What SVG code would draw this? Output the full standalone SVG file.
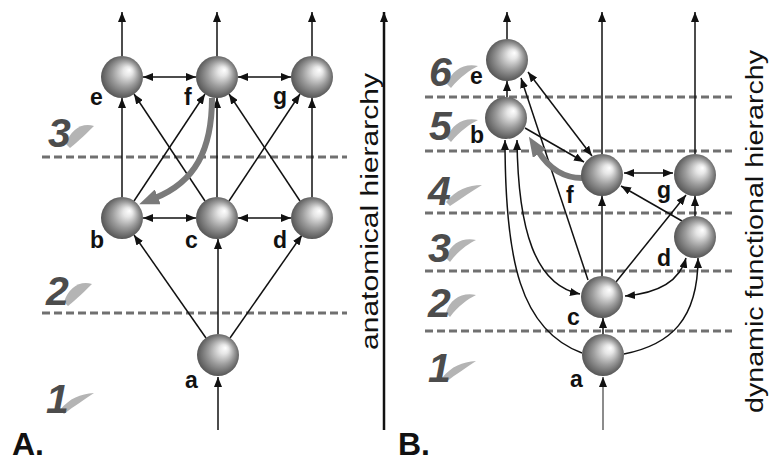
<svg xmlns="http://www.w3.org/2000/svg" width="771" height="461" viewBox="0 0 771 461">
<style>
.bg{fill:#fff}
.dash{stroke:#707070;stroke-width:3;stroke-dasharray:8 4;fill:none}
.node{fill:url(#sph)}
.lbl{font-family:"Liberation Sans",Arial,sans-serif;font-weight:bold;font-size:23px;fill:#111}
.num{font-family:"Liberation Sans",Arial,sans-serif;font-weight:bold;font-style:italic;font-size:41px;fill:#4c4c4c}
.sh{fill:#b4b4b4}
.c{stroke:#111;stroke-width:1.5;fill:none;marker-end:url(#ah)}
.cc{stroke:#111;stroke-width:1.5;fill:none;marker-end:url(#ah);marker-start:url(#ah)}
.thick{stroke:#7a7a7a;stroke-width:6;fill:none;marker-end:url(#ahg)}
.axis{font-family:"Liberation Sans",Arial,sans-serif;font-size:23px;fill:#111}
.panel{font-family:"Liberation Sans",Arial,sans-serif;font-weight:bold;font-size:32px;fill:#111}
</style>
<defs>
<radialGradient id="sph" cx="0.5" cy="0.5" r="0.56" fx="0.68" fy="0.33">
<stop offset="0" stop-color="#ffffff"/>
<stop offset="0.2" stop-color="#e6e6e6"/>
<stop offset="0.55" stop-color="#9c9c9c"/>
<stop offset="1" stop-color="#474747"/>
</radialGradient>
<marker id="ah" markerUnits="userSpaceOnUse" markerWidth="10" markerHeight="8" refX="10" refY="4" orient="auto-start-reverse"><path d="M0,0 L10,4 L0,8 z" fill="#111"/></marker>
<marker id="ahg" markerUnits="userSpaceOnUse" markerWidth="20" markerHeight="16" refX="3" refY="8" orient="auto"><path d="M0,0 L20,8 L0,16 z" fill="#7a7a7a"/></marker>
</defs>
<rect class="bg" x="0" y="0" width="771" height="461"/>

<g id="layers">
<line class="dash" x1="42" y1="157" x2="347" y2="157"/>
<line class="dash" x1="42" y1="313" x2="347" y2="313"/>
<line class="dash" x1="425" y1="97" x2="732" y2="97"/>
<line class="dash" x1="425" y1="151" x2="732" y2="151"/>
<line class="dash" x1="425" y1="213" x2="732" y2="213"/>
<line class="dash" x1="425" y1="271" x2="732" y2="271"/>
<line class="dash" x1="425" y1="331" x2="732" y2="331"/>
<path class="sh" d="M66,144 C70,130 82,122 94,126 C88,132 80,140 70,148 Z"/>
<text class="num" x="48" y="147">3</text>
<path class="sh" d="M64,302 C68,288 80,280 92,284 C86,290 78,298 68,306 Z"/>
<text class="num" x="46" y="305">2</text>
<path class="sh" d="M60,410 C70,398 80,394 94,393 C84,400 74,406 64,414 Z"/>
<text class="num" x="46" y="413">1</text>
<path class="sh" d="M447,84 C452,70 464,63 478,66 C470,70 460,77 451,88 Z"/>
<text class="num" x="429" y="86">6</text>
<path class="sh" d="M447,138 C452,124 464,117 478,120 C470,124 460,131 451,142 Z"/>
<text class="num" x="429" y="140">5</text>
<path class="sh" d="M446,202 C456,190 468,185 482,185 C472,191 462,198 450,206 Z"/>
<text class="num" x="428" y="205">4</text>
<path class="sh" d="M446,258 C450,244 462,237 476,240 C468,244 458,251 450,262 Z"/>
<text class="num" x="428" y="262">3</text>
<path class="sh" d="M446,313 C450,299 462,292 476,295 C468,299 458,306 450,317 Z"/>
<text class="num" x="428" y="317">2</text>
<path class="sh" d="M442,378 C452,366 462,362 476,361 C466,368 456,374 446,382 Z"/>
<text class="num" x="428" y="382">1</text>
</g>

<g id="connectors">
<line class="c" x1="122" y1="56" x2="122" y2="12"/>
<line class="c" x1="217" y1="56" x2="217" y2="12"/>
<line class="c" x1="312" y1="56" x2="312" y2="12"/>
<line class="cc" x1="143" y1="77" x2="196" y2="77"/>
<line class="cc" x1="238" y1="77" x2="291" y2="77"/>
<line class="cc" x1="143" y1="218" x2="196" y2="218"/>
<line class="cc" x1="238" y1="218" x2="291" y2="218"/>
<line class="c" x1="122" y1="197" x2="122" y2="98"/>
<line class="c" x1="217" y1="197" x2="217" y2="98"/>
<line class="c" x1="312" y1="197" x2="312" y2="98"/>
<line class="c" x1="205" y1="201" x2="134" y2="94"/>
<line class="c" x1="134" y1="201" x2="205" y2="94"/>
<line class="c" x1="300" y1="201" x2="229" y2="94"/>
<line class="c" x1="229" y1="201" x2="300" y2="94"/>
<line class="c" x1="206" y1="338" x2="134" y2="235"/>
<line class="c" x1="218" y1="334" x2="218" y2="239"/>
<line class="c" x1="230" y1="338" x2="302" y2="235"/>
<line class="c" x1="218" y1="430" x2="218" y2="377"/>
<path class="thick" d="M212,98 C212,150 195,182 155,198"/>
<line class="c" x1="507" y1="39" x2="507" y2="12"/>
<line class="c" x1="602" y1="154" x2="602" y2="12"/>
<line class="c" x1="695" y1="154" x2="695" y2="12"/>
<line class="c" x1="507" y1="97" x2="507" y2="81"/>
<line class="c" x1="588" y1="280" x2="521" y2="78"/>
<line class="cc" x1="528" y1="72" x2="592" y2="156"/>
<line class="c" x1="525" y1="128" x2="584" y2="162"/>
<line class="cc" x1="624" y1="173" x2="673" y2="173"/>
<line class="c" x1="602" y1="276" x2="602" y2="196"/>
<line class="c" x1="682" y1="221" x2="621" y2="186"/>
<line class="c" x1="616" y1="282" x2="686" y2="195"/>
<line class="c" x1="695" y1="216" x2="695" y2="196"/>
<line class="c" x1="603" y1="334" x2="603" y2="318"/>
<path class="c" d="M582,353 C520,330 505,260 505,140"/>
<path class="cc" d="M517,140 C518,230 535,285 580,294"/>
<path class="c" d="M624,354 C670,345 698,320 698,258"/>
<path class="cc" d="M625,296 C660,293 680,280 686,258"/>
<line class="c" x1="603" y1="430" x2="603" y2="377" style="stroke:#666"/>
<path class="thick" d="M582,178 C565,178 550,170 538,151"/>
<line class="c" x1="384" y1="430" x2="384" y2="12" style="stroke-width:2.5"/>
</g>

<g id="A-e"><circle class="node" cx="122" cy="77" r="21"/><text class="lbl" x="90" y="105">e</text></g>
<g id="A-f"><circle class="node" cx="217" cy="77" r="21"/><text class="lbl" x="184" y="105">f</text></g>
<g id="A-g"><circle class="node" cx="312" cy="77" r="21"/><text class="lbl" x="273" y="104">g</text></g>
<g id="A-b"><circle class="node" cx="122" cy="218" r="21"/><text class="lbl" x="90" y="248">b</text></g>
<g id="A-c"><circle class="node" cx="217" cy="218" r="21"/><text class="lbl" x="185" y="248">c</text></g>
<g id="A-d"><circle class="node" cx="312" cy="218" r="21"/><text class="lbl" x="273" y="248">d</text></g>
<g id="A-a"><circle class="node" cx="218" cy="355" r="21"/><text class="lbl" x="185" y="388">a</text></g>

<g id="B-e"><circle class="node" cx="507" cy="60" r="21"/><text class="lbl" x="470" y="84">e</text></g>
<g id="B-b"><circle class="node" cx="506" cy="118" r="21"/><text class="lbl" x="470" y="143">b</text></g>
<g id="B-f"><circle class="node" cx="602" cy="175" r="21"/><text class="lbl" x="566" y="203">f</text></g>
<g id="B-g"><circle class="node" cx="695" cy="175" r="21"/><text class="lbl" x="657" y="198">g</text></g>
<g id="B-d"><circle class="node" cx="695" cy="237" r="21"/><text class="lbl" x="657" y="266">d</text></g>
<g id="B-c"><circle class="node" cx="602" cy="297" r="21"/><text class="lbl" x="567" y="325">c</text></g>
<g id="B-a"><circle class="node" cx="603" cy="355" r="21"/><text class="lbl" x="570" y="387">a</text></g>

<g id="labels">
<text class="axis" transform="translate(378,350) rotate(-90)" textLength="277" lengthAdjust="spacingAndGlyphs">anatomical hierarchy</text>
<text class="axis" transform="translate(763,413) rotate(-90)" textLength="363" lengthAdjust="spacingAndGlyphs">dynamic functional hierarchy</text>
<text class="panel" x="12" y="455">A.</text>
<text class="panel" x="398" y="455">B.</text>
</g>
</svg>
